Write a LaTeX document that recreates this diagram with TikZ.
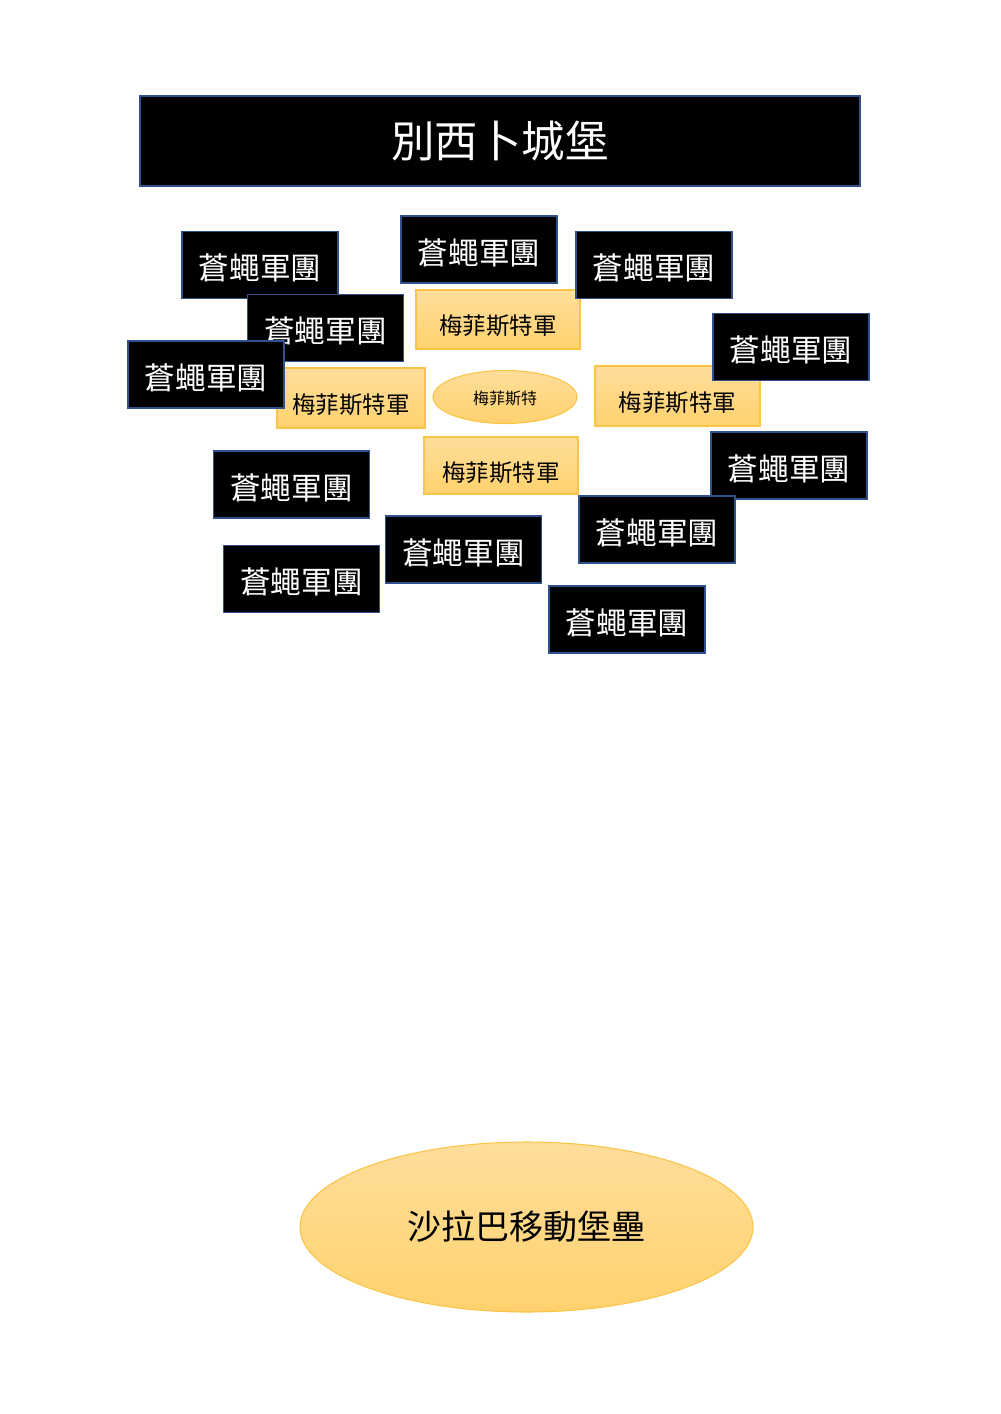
\documentclass[tikz,border=0pt]{standalone}
\usepackage{fontspec}
\newfontfamily\cjk{Noto Sans CJK TC}
\usetikzlibrary{shapes.geometric}
\definecolor{bbord}{RGB}{47,82,143}
\definecolor{otop}{RGB}{255,222,155}
\definecolor{obot}{RGB}{255,210,110}
\definecolor{obord}{RGB}{250,196,70}
\newcommand{\lowr}[2]{\raisebox{-#1}[\height][\depth]{#2}}
\tikzset{
  blk/.style={draw=bbord, line width=1.1pt, fill=black, text=white, inner sep=0pt,
    minimum width=117pt, minimum height=50.25pt, font=\cjk\fontsize{23}{25}\selectfont},
  orng/.style={draw=obord, line width=0.8pt, top color=otop, bottom color=obot, text=black, inner sep=0pt,
    font=\cjk\fontsize{17.6}{19}\selectfont},
  oell/.style={ellipse, orng}
}
\begin{document}
\begin{tikzpicture}[x=0.75pt,y=-0.75pt]
\useasboundingbox (0,0) rectangle (1000,1414);
\node[blk, minimum width=540pt, minimum height=67.5pt, font=\cjk\fontsize{32.6}{34}\selectfont] (title) at (500,141) {別西卜城堡};
% orange rectangles
\node[orng, minimum width=123pt, minimum height=44.25pt] (ma) at (498,319.5) {\lowr{5pt}{梅菲斯特軍}};
\node[orng, minimum width=111pt, minimum height=45pt] (mb) at (351,398) {\lowr{5pt}{梅菲斯特軍}};
\node[orng, minimum width=123.75pt, minimum height=45pt] (mc) at (677.5,396) {\lowr{5pt}{梅菲斯特軍}};
\node[orng, minimum width=115.5pt, minimum height=42.75pt] (md) at (501,465.5) {\lowr{5.5pt}{梅菲斯特軍}};
\node[oell, minimum width=108pt, minimum height=39.75pt, font=\cjk\fontsize{12}{14}\selectfont] (me) at (505,397) {\lowr{1.5pt}{梅菲斯特}};
% black boxes
\node[blk] (b1) at (260,265) {\lowr{2.5pt}{蒼蠅軍團}};
\node[blk] (b2) at (479,249.5) {\lowr{2.5pt}{蒼蠅軍團}};
\node[blk] (b3) at (654,265) {\lowr{2.5pt}{蒼蠅軍團}};
\node[blk] (b4) at (325.5,328) {\lowr{2.5pt}{蒼蠅軍團}};
\node[blk] (b5) at (206,374.5) {\lowr{2.5pt}{蒼蠅軍團}};
\node[blk] (b6) at (791,347) {\lowr{2.5pt}{蒼蠅軍團}};
\node[blk] (b7) at (291.5,484.5) {\lowr{2.5pt}{蒼蠅軍團}};
\node[blk] (b8) at (301.5,579) {\lowr{2.5pt}{蒼蠅軍團}};
\node[blk] (b9) at (463.5,549.5) {\lowr{2.5pt}{蒼蠅軍團}};
\node[blk] (b11) at (789,465.5) {\lowr{2.5pt}{蒼蠅軍團}};
\node[blk] (b10) at (657,529.5) {\lowr{2.5pt}{蒼蠅軍團}};
\node[blk] (b12) at (627,619.5) {\lowr{2.5pt}{蒼蠅軍團}};
% big ellipse
\node[oell, minimum width=339.75pt, minimum height=127.5pt, font=\cjk\fontsize{25.5}{27}\selectfont] (fort) at (526.5,1227) {沙拉巴移動堡壘};
\end{tikzpicture}
\end{document}
